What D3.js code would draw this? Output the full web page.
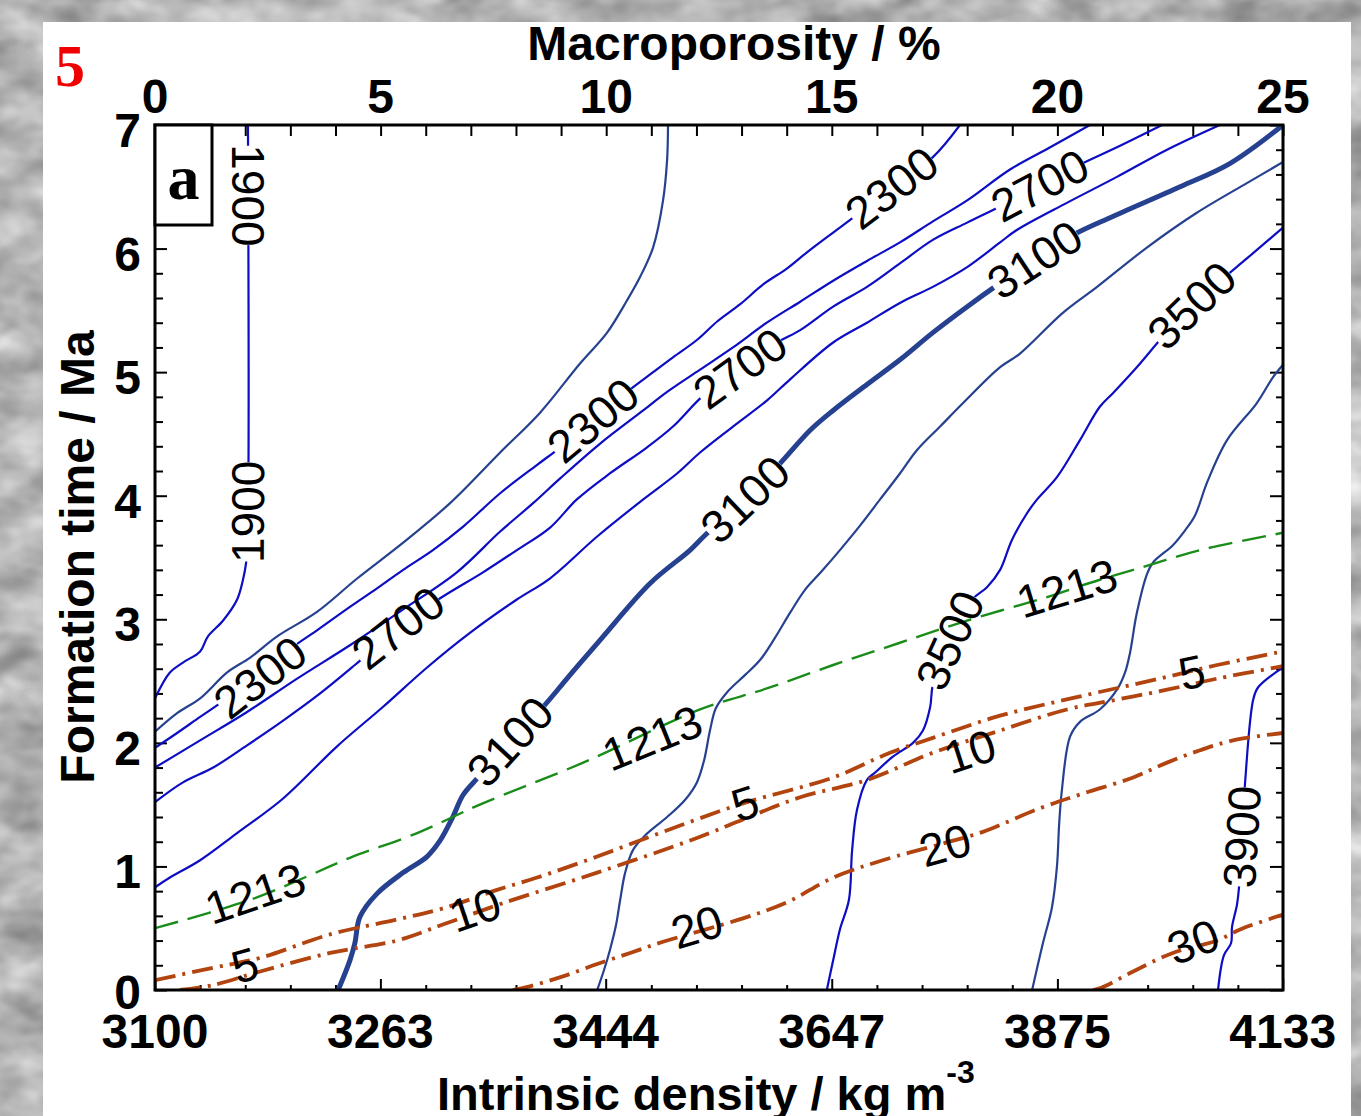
<!DOCTYPE html>
<html lang="en">
<head>
<meta charset="UTF-8">
<title>Formation time vs macroporosity</title>
<script src="https://cdn.jsdelivr.net/npm/d3@7"></script>
<style>
    html, body { margin: 0; padding: 0; background: #b4b4b4; }
    svg { display: block; }
    .tick-label, .axis-title {
        font-family: "Liberation Sans", Arial, sans-serif;
        font-weight: bold;
        font-size: 48px;
        fill: #000;
    }
    .clabel {
        font-family: "Liberation Sans", Arial, sans-serif;
        font-size: 46px;
        fill: #000;
    }
</style>
</head>
<body>
<svg id="chart" width="1361" height="1116"></svg>
<script>
    // axes
    var porosityTicks = [0, 5, 10, 15, 20, 25];          // top axis, %
    var densityTicks = [3100, 3263, 3444, 3647, 3875, 4133]; // bottom axis, kg m-3
    var timeTicks = [0, 1, 2, 3, 4, 5, 6, 7];             // Ma

    // density contours, points are [macroporosity %, formation time Ma]
    var c1900 = [[0, 2.36], [0.33, 2.57], [0.62, 2.65], [1.00, 2.74], [1.17, 2.86], [1.51, 2.99], [1.82, 3.16], [1.95, 3.32], [2.02, 3.46], [2.06, 3.80], [2.06, 7.0]];
    var c2100 = [[0, 2.09], [0.49, 2.24], [1.00, 2.36], [1.60, 2.57], [2.11, 2.69], [2.70, 2.86], [3.59, 3.06], [4.48, 3.33], [5.50, 3.62], [6.54, 3.94], [7.65, 4.35], [8.53, 4.67], [9.42, 5.07], [10.02, 5.32], [10.46, 5.58], [10.75, 5.77], [11.04, 6.01], [11.26, 6.39], [11.35, 6.72], [11.37, 7.0]];
    var c2300 = [[0, 1.96], [0.49, 2.08], [1.00, 2.21], [1.48, 2.33], [2.33, 2.54], [3.04, 2.77], [3.59, 2.91], [4.32, 3.10], [4.92, 3.25], [5.50, 3.40], [6.16, 3.56], [6.83, 3.75], [7.65, 4.02], [8.47, 4.25], [8.98, 4.39], [9.71, 4.61], [10.46, 4.84], [11.04, 5.00], [11.48, 5.12], [12.01, 5.26], [12.46, 5.41], [12.97, 5.55], [13.48, 5.71], [14.01, 5.84], [14.45, 5.97], [15.03, 6.13], [15.40, 6.23], [16.33, 6.49], [17.24, 6.74], [17.84, 7.0]];
    var c2500 = [[0, 1.80], [1.00, 2.02], [2.04, 2.25], [3.15, 2.52], [4.32, 2.79], [5.50, 3.08], [6.69, 3.38], [7.65, 3.71], [8.38, 3.94], [8.98, 4.14], [9.86, 4.42], [10.82, 4.69], [11.35, 4.84], [12.08, 5.02], [12.81, 5.20], [13.56, 5.40], [14.30, 5.57], [15.03, 5.74], [15.78, 5.90], [16.51, 6.05], [17.24, 6.22], [18.00, 6.39], [18.95, 6.64], [19.84, 6.82], [20.72, 7.0]];
    var c2700 = [[0, 1.52], [0.62, 1.68], [1.29, 1.80], [2.04, 1.98], [2.84, 2.18], [3.66, 2.40], [4.43, 2.63], [5.39, 2.93], [6.32, 3.17], [7.27, 3.38], [8.02, 3.56], [8.75, 3.74], [9.35, 3.97], [10.08, 4.18], [10.90, 4.39], [11.48, 4.56], [12.15, 4.81], [12.97, 5.03], [13.79, 5.24], [14.30, 5.34], [15.03, 5.53], [15.78, 5.69], [16.51, 5.88], [17.24, 6.07], [18.00, 6.21], [18.73, 6.34], [19.61, 6.51], [20.50, 6.68], [21.32, 6.82], [22.32, 7.0]];
    var c2900 = [[0, 0.83], [0.33, 0.91], [1.00, 1.05], [1.82, 1.27], [2.84, 1.55], [4.03, 1.97], [5.05, 2.29], [6.03, 2.61], [6.98, 2.89], [8.02, 3.16], [8.75, 3.33], [9.80, 3.67], [10.82, 3.97], [11.57, 4.18], [12.08, 4.35], [12.81, 4.56], [13.56, 4.77], [14.07, 4.94], [15.03, 5.24], [15.78, 5.40], [16.51, 5.56], [17.24, 5.69], [18.00, 5.85], [18.73, 6.05], [19.10, 6.15], [20.21, 6.37], [21.32, 6.58], [22.43, 6.80], [23.60, 7.0]];
    var c3100 = [[4.06, 0], [4.32, 0.24], [4.43, 0.38], [4.54, 0.59], [4.92, 0.78], [5.50, 0.95], [6.03, 1.08], [6.32, 1.21], [6.60, 1.40], [6.83, 1.58], [7.16, 1.72], [7.87, 2.01], [8.60, 2.29], [9.20, 2.55], [9.86, 2.83], [10.97, 3.29], [11.86, 3.56], [12.19, 3.68], [13.08, 3.97], [13.85, 4.26], [14.52, 4.53], [15.03, 4.69], [15.78, 4.90], [16.51, 5.10], [17.24, 5.32], [18.00, 5.53], [18.73, 5.72], [19.50, 5.91], [20.35, 6.11], [21.23, 6.26], [22.72, 6.50], [23.83, 6.69], [25, 7.0]];
    var c3300 = [[9.80, 0], [9.95, 0.16], [10.08, 0.32], [10.22, 0.53], [10.31, 0.73], [10.42, 0.95], [10.59, 1.13], [10.86, 1.25], [11.35, 1.40], [11.75, 1.54], [12.01, 1.68], [12.17, 1.86], [12.30, 2.10], [12.43, 2.28], [12.68, 2.41], [13.08, 2.55], [13.41, 2.67], [13.74, 2.85], [14.07, 3.05], [14.41, 3.24], [14.78, 3.39], [15.18, 3.56], [15.63, 3.76], [16.07, 3.97], [16.51, 4.18], [16.89, 4.37], [17.40, 4.56], [17.91, 4.75], [18.73, 5.04], [19.17, 5.15], [20.12, 5.48], [20.88, 5.69], [21.99, 6.01], [23.09, 6.29], [24.20, 6.53], [25, 6.70]];
    var c3500 = [[14.89, 0], [15.03, 0.24], [15.18, 0.49], [15.38, 0.73], [15.45, 1.13], [15.56, 1.46], [15.78, 1.70], [15.96, 1.76], [16.36, 1.89], [16.80, 2.00], [17.02, 2.10], [17.18, 2.29], [17.24, 2.47], [17.62, 2.83], [18.11, 3.16], [18.44, 3.26], [18.73, 3.40], [18.99, 3.64], [19.33, 3.86], [19.55, 3.97], [19.99, 4.15], [20.50, 4.45], [20.94, 4.72], [21.23, 4.83], [21.76, 5.04], [22.32, 5.28], [22.98, 5.54], [23.71, 5.77], [24.20, 5.92], [25, 6.17]];
    var c3700 = [[19.44, 0], [19.68, 0.38], [19.88, 0.67], [19.99, 1.00], [20.04, 1.35], [20.10, 1.62], [20.28, 2.05], [20.50, 2.17], [20.94, 2.27], [21.32, 2.43], [21.50, 2.57], [21.61, 2.73], [21.76, 3.05], [21.99, 3.37], [22.12, 3.46], [22.56, 3.60], [22.83, 3.72], [23.05, 3.84], [23.32, 4.11], [23.76, 4.45], [24.42, 4.75], [24.78, 4.96], [25, 5.06]];
    var c3900 = [[23.56, 0], [23.69, 0.28], [23.85, 0.38], [23.87, 0.51], [23.98, 0.69], [24.02, 0.81], [24.09, 1.24], [24.16, 1.68], [24.34, 2.35], [24.45, 2.45], [25, 2.61]];

    var densityContours = [
        [1900, c1900], [2100, c2100], [2300, c2300], [2500, c2500], [2700, c2700], [2900, c2900],
        [3100, c3100], [3300, c3300], [3500, c3500], [3700, c3700], [3900, c3900]
    ];
    // [contour value, porosity, time, reversed reading]
    var densityLabels = [
        [1900, 2.06, 3.87], [1900, 2.06, 6.43, 1],
        [2300, 2.33, 2.53], [2300, 9.71, 4.61], [2300, 16.33, 6.49],
        [2700, 5.39, 2.93], [2700, 12.97, 5.03], [2700, 19.61, 6.51],
        [3100, 7.87, 2.01], [3100, 13.08, 3.97], [3100, 19.50, 5.91],
        [3500, 17.62, 2.83], [3500, 22.98, 5.54],
        [3900, 24.09, 1.24]
    ];

    // 1213 line (green dashed)
    var t1213 = [[0, 0.50], [2.11, 0.73], [3.44, 0.93], [4.32, 1.07], [5.81, 1.27], [7.20, 1.50], [9.49, 1.84], [12.08, 2.27], [13.56, 2.44], [15.03, 2.63], [16.51, 2.81], [18.00, 2.99], [19.77, 3.18], [20.94, 3.32], [22.05, 3.44], [23.16, 3.56], [25, 3.70]];
    var t1213Labels = [[1213, 2.22, 0.78], [1213, 11.02, 2.04], [1213, 20.21, 3.25]];

    // brown dash-dot lines 5, 10, 20, 30
    var m5 = [[0, 0.08], [1.29, 0.18], [2.33, 0.26], [3.88, 0.45], [5.36, 0.57], [6.38, 0.66], [7.58, 0.81], [8.47, 0.91], [9.80, 1.08], [11.26, 1.28], [13.03, 1.51], [15.03, 1.72], [16.29, 1.92], [17.24, 2.04], [18.73, 2.22], [20.43, 2.37], [22.27, 2.52], [23.54, 2.63], [25, 2.74]];
    var m10 = [[0.55, 0], [1.29, 0.04], [2.33, 0.15], [3.88, 0.30], [5.36, 0.40], [6.38, 0.53], [7.69, 0.70], [9.80, 0.95], [12.01, 1.23], [13.03, 1.38], [14.30, 1.56], [15.78, 1.70], [17.24, 1.92], [18.73, 2.10], [20.21, 2.27], [21.32, 2.35], [22.43, 2.43], [23.54, 2.52], [25, 2.62]];
    var m20 = [[7.93, 0], [8.31, 0.03], [9.04, 0.11], [9.80, 0.21], [10.53, 0.30], [11.26, 0.39], [13.03, 0.58], [14.01, 0.71], [15.03, 0.91], [16.13, 1.05], [17.51, 1.19], [18.35, 1.28], [19.61, 1.47], [20.57, 1.59], [21.68, 1.72], [22.43, 1.84], [23.16, 1.94], [23.89, 2.02], [25, 2.08]];
    var m30 = [[20.79, 0], [20.99, 0.02], [21.68, 0.15], [22.56, 0.30], [23.54, 0.40], [24.05, 0.49], [25, 0.61]];
    var meltLines = [[5, m5], [10, m10], [20, m20], [30, m30]];
    var meltLabels = [
        [5, 1.99, 0.20], [5, 13.08, 1.51], [5, 22.98, 2.57],
        [10, 7.09, 0.65], [10, 18.06, 1.93],
        [20, 12.01, 0.51], [20, 17.51, 1.17],
        [30, 23.01, 0.39]
    ];

    var svg = d3.select("#chart"),
        W = +svg.attr("width"),
        H = +svg.attr("height");

    var plot = { left: 155, top: 125, right: 1283, bottom: 990 };

    var x = d3.scaleLinear().domain([0, 25]).range([plot.left, plot.right]),
        y = d3.scaleLinear().domain([0, 7]).range([plot.bottom, plot.top]);

    // density axis is 3100 / (1 - porosity)
    function densityToPorosity(d) {
        return 100 * (1 - densityTicks[0] / d);
    }

    var defs = svg.append("defs");

    var marble = defs.append("filter").attr("id", "marble")
        .attr("filterUnits", "userSpaceOnUse")
        .attr("color-interpolation-filters", "sRGB")
        .attr("x", 0).attr("y", 0).attr("width", W).attr("height", H);
    marble.append("feTurbulence")
        .attr("type", "fractalNoise")
        .attr("baseFrequency", "0.018 0.028")
        .attr("numOctaves", 3)
        .attr("seed", 11);
    marble.append("feColorMatrix").attr("type", "matrix")
        .attr("values", "0.28 0.28 0.28 0 0.28  0.28 0.28 0.28 0 0.28  0.28 0.28 0.28 0 0.28  0 0 0 0 1");

    defs.append("clipPath").attr("id", "plotclip").append("rect")
        .attr("x", plot.left).attr("y", plot.top)
        .attr("width", plot.right - plot.left)
        .attr("height", plot.bottom - plot.top);

    // backdrop + white sheet
    svg.append("rect").attr("width", W).attr("height", H).attr("filter", "url(#marble)");
    svg.append("rect").attr("x", 43).attr("y", 22).attr("width", 1308).attr("height", H - 22).attr("fill", "#fff");

    // ticks, all pointing inward
    function ticks(axis, pos, values, size) {
        svg.append("g")
            .attr("transform", pos)
            .call(axis.tickValues(values).tickSize(-size).tickFormat(""))
            .call(g => g.select(".domain").remove())
            .call(g => g.selectAll("line").attr("stroke", "#000").attr("stroke-width", 2));
    }
    var pct = d3.range(0, 26),
        pctMinor = pct.filter(d => d % 5 !== 0),
        tMinor = d3.range(0, 36).map(i => i / 5).filter((d, i) => i % 5 !== 0);

    ticks(d3.axisTop(x), "translate(0," + plot.top + ")", pct, 11);
    ticks(d3.axisBottom(x), "translate(0," + plot.bottom + ")", pctMinor, 5);
    ticks(d3.axisBottom(x), "translate(0," + plot.bottom + ")", densityTicks.map(densityToPorosity), 11);
    ticks(d3.axisLeft(y), "translate(" + plot.left + ",0)", tMinor, 8);
    ticks(d3.axisLeft(y), "translate(" + plot.left + ",0)", timeTicks, 12);
    ticks(d3.axisRight(y), "translate(" + plot.right + ",0)", tMinor, 7);
    ticks(d3.axisRight(y), "translate(" + plot.right + ",0)", timeTicks, 13);

    var line = d3.line()
        .x(d => x(d[0]))
        .y(d => y(d[1]))
        .curve(d3.curveCatmullRom.alpha(0.5));

    // text angle from the local direction of a line
    function angleAt(pts, px, py, reversed) {
        var best = 0, bd = Infinity;
        pts.forEach(function (p, i) {
            var d = Math.pow(x(p[0]) - px, 2) + Math.pow(y(p[1]) - py, 2);
            if (d < bd) { bd = d; best = i; }
        });
        var a = pts[Math.max(best - 1, 0)],
            b = pts[Math.min(best + 1, pts.length - 1)];
        var ang = Math.atan2(y(b[1]) - y(a[1]), x(b[0]) - x(a[0])) * 180 / Math.PI;
        if (ang > 90) ang -= 180;
        if (ang < -90) ang += 180;
        if (reversed) ang += 180;
        return ang;
    }

    var fontSize = 46;
    function labelWidth(v) {
        return String(v).length * 0.54 * fontSize;
    }

    var plotArea = svg.append("g").attr("clip-path", "url(#plotclip)");
    var labelLayer = svg.append("g");

    // blue contours, broken where they carry a label
    densityContours.forEach(function (c) {
        var v = c[0], pts = c[1];
        var labs = densityLabels.filter(l => l[0] === v).map(function (l) {
            var px = x(l[1]), py = y(l[2]);
            return { v: v, px: px, py: py, ang: angleAt(pts, px, py, l[3]) };
        });

        var mask = defs.append("mask").attr("id", "m" + v)
            .attr("maskUnits", "userSpaceOnUse")
            .attr("x", 0).attr("y", 0).attr("width", W).attr("height", H);
        mask.append("rect").attr("width", W).attr("height", H).attr("fill", "#fff");
        mask.selectAll("rect.gap").data(labs).enter().append("rect")
            .attr("class", "gap")
            .attr("x", d => -labelWidth(d.v) / 2)
            .attr("y", -18)
            .attr("width", d => labelWidth(d.v))
            .attr("height", 36)
            .attr("fill", "#000")
            .attr("transform", d => "translate(" + d.px + "," + d.py + ") rotate(" + d.ang + ")");

        var navy = (v === 2100 || v === 3100 || v === 3300 || v === 3700);
        plotArea.append("path")
            .datum(pts)
            .attr("d", line)
            .attr("fill", "none")
            .attr("stroke", navy ? "#26418f" : "#0d0dc4")
            .attr("stroke-width", v === 3100 ? 5 : 2.2)
            .attr("stroke-linejoin", "round")
            .attr("mask", "url(#m" + v + ")");

        labelLayer.selectAll(null).data(labs).enter().append("text")
            .attr("class", "clabel")
            .attr("text-anchor", "middle")
            .attr("dominant-baseline", "central")
            .attr("transform", d => "translate(" + d.px + "," + d.py + ") rotate(" + d.ang + ")")
            .text(d => d.v);
    });

    // green dashed 1213 line
    plotArea.append("path")
        .datum(t1213)
        .attr("d", line)
        .attr("fill", "none")
        .attr("stroke", "#1a8c1a")
        .attr("stroke-width", 2.4)
        .attr("stroke-dasharray", "24,10");

    labelLayer.selectAll(null).data(t1213Labels).enter().append("text")
        .attr("class", "clabel")
        .attr("text-anchor", "middle")
        .attr("dominant-baseline", "central")
        .attr("transform", d => "translate(" + x(d[1]) + "," + y(d[2]) + ") rotate(" + angleAt(t1213, x(d[1]), y(d[2])) + ")")
        .text(d => d[0]);

    // brown dash-dot lines
    meltLines.forEach(function (m) {
        plotArea.append("path")
            .datum(m[1])
            .attr("d", line)
            .attr("fill", "none")
            .attr("stroke", "#b2440f")
            .attr("stroke-width", 3.8)
            .attr("stroke-dasharray", "21,7,3,7");
    });

    labelLayer.selectAll(null).data(meltLabels).enter().append("text")
        .attr("class", "clabel")
        .attr("text-anchor", "middle")
        .attr("dominant-baseline", "central")
        .attr("transform", function (d) {
            var pts = meltLines.find(m => m[0] === d[0])[1];
            return "translate(" + x(d[1]) + "," + y(d[2]) + ") rotate(" + angleAt(pts, x(d[1]), y(d[2])) + ")";
        })
        .text(d => d[0]);

    // frame
    svg.append("rect")
        .attr("x", plot.left).attr("y", plot.top)
        .attr("width", plot.right - plot.left)
        .attr("height", plot.bottom - plot.top)
        .attr("fill", "none")
        .attr("stroke", "#000")
        .attr("stroke-width", 3);

    // tick labels
    svg.selectAll(null).data(porosityTicks).enter().append("text")
        .attr("class", "tick-label")
        .attr("text-anchor", "middle")
        .attr("x", d => x(d))
        .attr("y", 113)
        .text(d => d);

    svg.selectAll(null).data(densityTicks).enter().append("text")
        .attr("class", "tick-label")
        .attr("text-anchor", "middle")
        .attr("x", d => x(densityToPorosity(d)))
        .attr("y", 1048)
        .text(d => d);

    svg.selectAll(null).data(timeTicks).enter().append("text")
        .attr("class", "tick-label")
        .attr("text-anchor", "end")
        .attr("x", 141)
        .attr("y", d => y(d) + (d === 0 ? 19 : 22))
        .text(d => d);

    // axis titles
    svg.append("text")
        .attr("class", "axis-title")
        .attr("text-anchor", "middle")
        .attr("x", 734).attr("y", 60)
        .text("Macroporosity / %");

    svg.append("text")
        .attr("class", "axis-title")
        .attr("text-anchor", "middle")
        .attr("transform", "translate(94,557) rotate(-90)")
        .text("Formation time / Ma");

    var xt = svg.append("text")
        .attr("class", "axis-title")
        .attr("x", 437).attr("y", 1110)
        .style("font-size", "47px")
        .text("Intrinsic density / kg m");
    xt.append("tspan")
        .attr("dy", -27)
        .style("font-size", "32px")
        .text("-3");

    // panel tag and sub-plot letter
    svg.append("text")
        .attr("x", 55).attr("y", 86)
        .style("font-family", "'Liberation Serif', 'Times New Roman', serif")
        .style("font-weight", "bold")
        .style("font-size", "60px")
        .attr("fill", "#f00000")
        .text("5");

    svg.append("rect")
        .attr("x", plot.left).attr("y", plot.top)
        .attr("width", 57).attr("height", 100)
        .attr("fill", "#fff")
        .attr("stroke", "#000")
        .attr("stroke-width", 3);
    svg.append("text")
        .attr("x", plot.left + 28.5).attr("y", 199)
        .attr("text-anchor", "middle")
        .style("font-family", "'Liberation Serif', 'Times New Roman', serif")
        .style("font-weight", "bold")
        .style("font-size", "64px")
        .text("a");
</script>
</body>
</html>
